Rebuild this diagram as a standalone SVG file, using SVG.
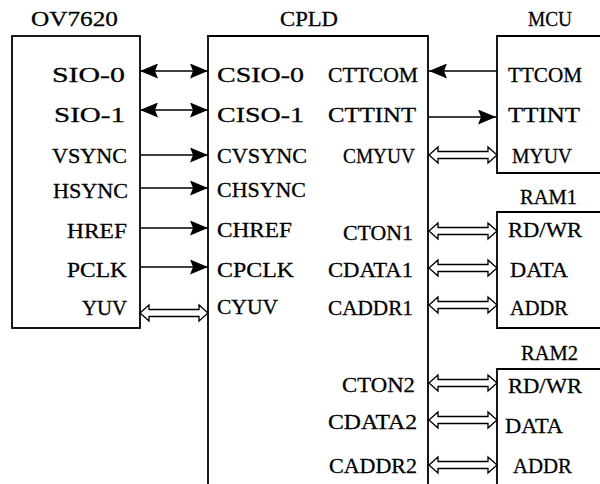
<svg xmlns="http://www.w3.org/2000/svg" width="600" height="484" viewBox="0 0 600 484">
<style>
  text { font-family: "Liberation Serif", "Times New Roman", serif; font-size: 22px; fill: #000; stroke: #000; stroke-width: 0.3; }
  .box { fill: none; stroke: #000; stroke-width: 1.8; }
  .wire { fill: none; stroke: #000; stroke-width: 1.3; }
  .bus { fill: #fff; stroke: #000; stroke-width: 1.3; stroke-linejoin: miter; }
</style>
<defs>
  <marker id="ah" viewBox="0 0 18 15" refX="18" refY="7.5" markerWidth="18" markerHeight="15" markerUnits="userSpaceOnUse" orient="auto-start-reverse">
    <path d="M0,0 L18,7.5 L0,15 L3,7.5 Z" fill="#000"/>
  </marker>
  <path id="hollow" d="M0,0 L9,-8 L9,-3.5 L59,-3.5 L59,-8 L68,0 L59,8 L59,3.5 L9,3.5 L9,8 Z"/>
</defs>

<g id="ov7620">
  <rect class="box" x="12" y="36" width="128" height="292"/>
  <text x="31" y="26" textLength="87" lengthAdjust="spacingAndGlyphs">OV7620</text>
  <text x="52" y="82" textLength="73" lengthAdjust="spacingAndGlyphs">SIO-0</text>
  <text x="54" y="122" textLength="71" lengthAdjust="spacingAndGlyphs">SIO-1</text>
  <text x="52" y="163" textLength="75" lengthAdjust="spacingAndGlyphs">VSYNC</text>
  <text x="53" y="198" textLength="75" lengthAdjust="spacingAndGlyphs">HSYNC</text>
  <text x="67" y="238" textLength="60" lengthAdjust="spacingAndGlyphs">HREF</text>
  <text x="67" y="277" textLength="60" lengthAdjust="spacingAndGlyphs">PCLK</text>
  <text x="82" y="315" textLength="45" lengthAdjust="spacingAndGlyphs">YUV</text>
</g>

<g id="cpld">
  <path class="box" d="M208,490 V36 H428 V490"/>
  <text x="280" y="26" textLength="58" lengthAdjust="spacingAndGlyphs">CPLD</text>
  <text x="217" y="82" textLength="87" lengthAdjust="spacingAndGlyphs">CSIO-0</text>
  <text x="217" y="122" textLength="87" lengthAdjust="spacingAndGlyphs">CISO-1</text>
  <text x="217" y="163" textLength="90" lengthAdjust="spacingAndGlyphs">CVSYNC</text>
  <text x="217" y="197" textLength="89" lengthAdjust="spacingAndGlyphs">CHSYNC</text>
  <text x="217" y="237" textLength="75" lengthAdjust="spacingAndGlyphs">CHREF</text>
  <text x="217" y="277" textLength="77" lengthAdjust="spacingAndGlyphs">CPCLK</text>
  <text x="217" y="314" textLength="61" lengthAdjust="spacingAndGlyphs">CYUV</text>
  <text x="328" y="82" textLength="90" lengthAdjust="spacingAndGlyphs">CTTCOM</text>
  <text x="328" y="122" textLength="88" lengthAdjust="spacingAndGlyphs">CTTINT</text>
  <text x="343" y="163" textLength="72" lengthAdjust="spacingAndGlyphs">CMYUV</text>
  <text x="343" y="240" textLength="70" lengthAdjust="spacingAndGlyphs">CTON1</text>
  <text x="328" y="277" textLength="85" lengthAdjust="spacingAndGlyphs">CDATA1</text>
  <text x="328" y="315" textLength="85" lengthAdjust="spacingAndGlyphs">CADDR1</text>
  <text x="342" y="392" textLength="73" lengthAdjust="spacingAndGlyphs">CTON2</text>
  <text x="328" y="429" textLength="89" lengthAdjust="spacingAndGlyphs">CDATA2</text>
  <text x="329" y="473" textLength="88" lengthAdjust="spacingAndGlyphs">CADDR2</text>
</g>

<g id="mcu">
  <path class="box" d="M601,36 H497 V173 H601"/>
  <text x="528" y="26" textLength="44" lengthAdjust="spacingAndGlyphs">MCU</text>
  <text x="508" y="82" textLength="74" lengthAdjust="spacingAndGlyphs">TTCOM</text>
  <text x="508" y="122" textLength="72" lengthAdjust="spacingAndGlyphs">TTINT</text>
  <text x="512" y="163" textLength="60" lengthAdjust="spacingAndGlyphs">MYUV</text>
</g>

<g id="ram1">
  <path class="box" d="M601,212 H497 V328 H601"/>
  <text x="520" y="204" textLength="57" lengthAdjust="spacingAndGlyphs">RAM1</text>
  <text x="508" y="237" textLength="74" lengthAdjust="spacingAndGlyphs">RD/WR</text>
  <text x="510" y="277" textLength="58" lengthAdjust="spacingAndGlyphs">DATA</text>
  <text x="510" y="315" textLength="58" lengthAdjust="spacingAndGlyphs">ADDR</text>
</g>

<g id="ram2">
  <path class="box" d="M601,369 H497 V490"/>
  <text x="521" y="360" textLength="57" lengthAdjust="spacingAndGlyphs">RAM2</text>
  <text x="508" y="393" textLength="74" lengthAdjust="spacingAndGlyphs">RD/WR</text>
  <text x="505" y="433" textLength="58" lengthAdjust="spacingAndGlyphs">DATA</text>
  <text x="513" y="473" textLength="59" lengthAdjust="spacingAndGlyphs">ADDR</text>
</g>

<g id="connectors">
  <line class="wire" x1="140" y1="71" x2="208" y2="71" marker-start="url(#ah)" marker-end="url(#ah)"/>
  <line class="wire" x1="140" y1="110" x2="208" y2="110" marker-start="url(#ah)" marker-end="url(#ah)"/>
  <line class="wire" x1="140" y1="155" x2="208" y2="155" marker-end="url(#ah)"/>
  <line class="wire" x1="140" y1="188" x2="208" y2="188" marker-end="url(#ah)"/>
  <line class="wire" x1="140" y1="228" x2="208" y2="228" marker-end="url(#ah)"/>
  <line class="wire" x1="140" y1="267" x2="208" y2="267" marker-end="url(#ah)"/>
  <use href="#hollow" class="bus" x="140" y="313"/>

  <line class="wire" x1="497" y1="71" x2="429" y2="71" marker-end="url(#ah)"/>
  <line class="wire" x1="428" y1="117" x2="496" y2="117" marker-end="url(#ah)"/>
  <use href="#hollow" class="bus" x="429" y="155"/>
  <use href="#hollow" class="bus" x="429" y="231"/>
  <use href="#hollow" class="bus" x="429" y="268"/>
  <use href="#hollow" class="bus" x="429" y="305"/>
  <use href="#hollow" class="bus" x="429" y="383"/>
  <use href="#hollow" class="bus" x="429" y="420"/>
  <use href="#hollow" class="bus" x="429" y="465"/>
</g>
</svg>
